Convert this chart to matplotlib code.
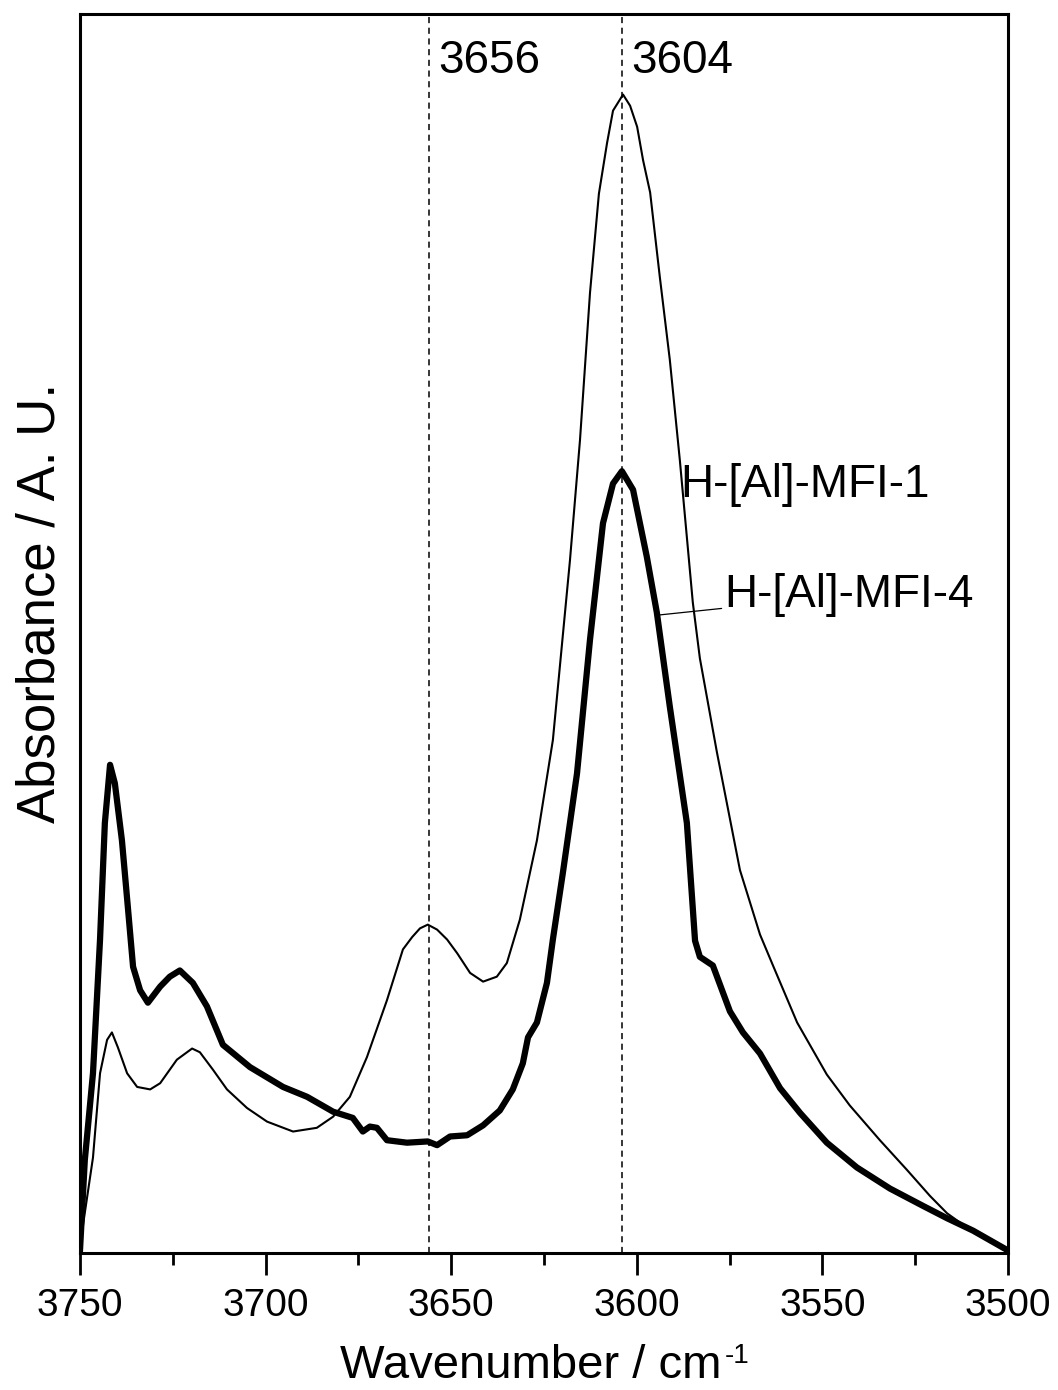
import matplotlib
matplotlib.use('Agg')
import matplotlib.pyplot as plt
from matplotlib.ticker import MultipleLocator

# IR spectra in the OH stretching region
wn_mfi1 = [3750.0, 3746.5, 3744.6, 3742.7, 3741.4, 3739.8, 3737.3, 3734.6, 3731.1, 3728.4,
           3723.9, 3719.8, 3717.7, 3714.2, 3710.4, 3705.0, 3699.6, 3692.6, 3686.2, 3681.8,
           3677.3, 3672.7, 3667.3, 3663.0, 3660.5, 3658.4, 3656.3, 3653.8, 3651.1, 3648.4,
           3644.9, 3641.4, 3637.7, 3635.0, 3631.5, 3626.9, 3622.6, 3618.0, 3615.3, 3612.6,
           3610.2, 3608.0, 3606.4, 3603.7, 3601.8, 3599.9, 3598.3, 3596.4, 3593.8, 3591.1,
           3588.4, 3584.9, 3583.0, 3578.4, 3572.2, 3566.8, 3563.3, 3556.8, 3548.8, 3542.6,
           3534.5, 3527.2, 3521.0, 3516.4, 3509.4, 3500.0]
abs_mfi1 = [0.006, 0.077, 0.145, 0.172, 0.178, 0.166, 0.145, 0.134, 0.132, 0.137,
            0.156, 0.165, 0.162, 0.148, 0.132, 0.117, 0.106, 0.098, 0.101, 0.110,
            0.126, 0.158, 0.204, 0.245, 0.255, 0.262, 0.265, 0.261, 0.253, 0.242,
            0.226, 0.219, 0.223, 0.234, 0.269, 0.333, 0.414, 0.559, 0.656, 0.775,
            0.855, 0.896, 0.922, 0.935, 0.926, 0.909, 0.882, 0.856, 0.788, 0.721,
            0.640, 0.525, 0.480, 0.404, 0.309, 0.257, 0.232, 0.186, 0.144, 0.119,
            0.091, 0.067, 0.046, 0.032, 0.017, 0.002]

wn_mfi4 = [3750.0, 3748.7, 3746.5, 3744.6, 3743.3, 3741.9, 3740.6, 3738.7, 3737.1, 3735.7,
           3733.8, 3731.7, 3728.4, 3725.8, 3723.1, 3719.6, 3715.8, 3711.5, 3704.2, 3695.3,
           3688.8, 3681.8, 3676.5, 3673.8, 3671.9, 3670.0, 3667.3, 3661.9, 3656.3, 3653.8,
           3650.3, 3645.7, 3641.4, 3636.9, 3633.4, 3630.7, 3629.3, 3626.9, 3624.2, 3622.6,
           3619.9, 3616.1, 3612.6, 3609.1, 3606.4, 3604.0, 3601.0, 3597.3, 3594.6, 3591.1,
           3586.5, 3584.3, 3583.0, 3579.5, 3574.9, 3571.4, 3566.8, 3561.4, 3556.0, 3548.8,
           3540.7, 3531.8, 3522.9, 3516.4, 3509.4, 3500.0]
abs_mfi4 = [0.002, 0.075, 0.145, 0.253, 0.347, 0.394, 0.379, 0.333, 0.279, 0.231,
            0.212, 0.202, 0.215, 0.223, 0.228, 0.218, 0.199, 0.168, 0.150, 0.134,
            0.126, 0.114, 0.109, 0.098, 0.102, 0.101, 0.091, 0.089, 0.090, 0.087,
            0.094, 0.095, 0.103, 0.115, 0.132, 0.153, 0.174, 0.186, 0.218, 0.253,
            0.307, 0.387, 0.495, 0.589, 0.621, 0.631, 0.616, 0.562, 0.517, 0.441,
            0.347, 0.252, 0.239, 0.232, 0.195, 0.178, 0.161, 0.133, 0.113, 0.089,
            0.069, 0.052, 0.038, 0.028, 0.018, 0.002]

peak_positions = [3656, 3604]
peak_labels = ['3656', '3604']

plt.rcParams['font.family'] = ['Liberation Sans', 'DejaVu Sans']

W, H = 1058, 1390
fig = plt.figure(figsize=(W / 100, H / 100), dpi=100)
ax = fig.add_axes([0.0756, 0.0986, 0.8771, 0.8913])

ax.plot(wn_mfi1, abs_mfi1, color='black', linewidth=1.5)
ax.plot(wn_mfi4, abs_mfi4, color='black', linewidth=4.5)

# peak markers
for pos, lab in zip(peak_positions, peak_labels):
    ax.axvline(pos, color='black', linewidth=1.1, linestyle=(0, (4, 3)))
    ax.annotate(lab, xy=(pos, 0.962), xytext=(7, 0), textcoords='offset points',
                ha='left', va='center', fontsize=33)

ax.text(3588.4, 0.620, 'H-[Al]-MFI-1', ha='left', va='center', fontsize=33)
ax.annotate('H-[Al]-MFI-4', xy=(3593.8, 0.515), xytext=(3576.4, 0.531),
            ha='left', va='center', fontsize=33,
            arrowprops=dict(arrowstyle='-', color='black', linewidth=0.9,
                            shrinkA=0, shrinkB=0))

ax.set_xlim(3750, 3500)
ax.set_ylim(0, 1.0)
ax.xaxis.set_major_locator(MultipleLocator(50))
ax.xaxis.set_minor_locator(MultipleLocator(25))
ax.set_yticks([])
ax.tick_params(axis='x', which='major', direction='out', length=16, width=2,
               pad=9, top=False, labelsize=28)
ax.tick_params(axis='x', which='minor', direction='out', length=8.5, width=2, top=False)
for sp in ax.spines.values():
    sp.set_linewidth(2.2)

# axis titles
fig.text(41 / W, 1 - 603 / H, 'Absorbance / A. U.', rotation=90,
         ha='center', va='center', fontsize=38)
xlab = fig.text(340 / W, 1 - 1378 / H, 'Wavenumber / cm', ha='left',
                va='baseline', fontsize=34)
fig.canvas.draw()
bb = xlab.get_window_extent()
fig.text((bb.x1 + 3) / W, (bb.y1 + 1) / H, '-1', fontsize=20, ha='left', va='top')

fig.savefig('out.png', dpi=100, facecolor='white')
